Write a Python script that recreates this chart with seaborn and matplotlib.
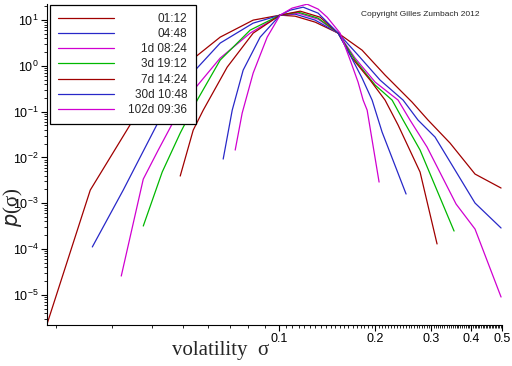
import numpy as np
import pandas as pd
import matplotlib
matplotlib.use("Agg")
import matplotlib.pyplot as plt
import matplotlib.ticker as mticker
import seaborn as sns

# legend labels (time horizons) and line colours
labels = ["01:12", "04:48", "1d 08:24", "3d 19:12", "7d 14:24", "30d 10:48", "102d 09:36"]
colors = ["#a00000", "#2828c8", "#d000d0", "#00b800", "#a00000", "#2828c8", "#d000d0"]

# volatility sigma and density p(sigma)
sig_0112 = [0.01875, 0.02556, 0.03589, 0.04551, 0.05454, 0.06531, 0.08288, 0.1007, 0.1122, 0.1297,
            0.1531, 0.1820, 0.2149, 0.2611, 0.2931, 0.3436, 0.4115, 0.4966]
p_0112 = [2.42e-6, 1.94e-3, 0.0932, 0.542, 1.556, 4.25, 10.0, 12.85, 12.2, 9.04,
          5.20, 2.21, 0.63, 0.162, 0.0656, 0.0206, 4.34e-3, 2.15e-3]

sig_0448 = [0.02594, 0.03243, 0.04176, 0.04551, 0.05454, 0.06531, 0.08288, 0.1007, 0.1122, 0.1297,
            0.1531, 0.1768, 0.2073, 0.2448, 0.2726, 0.3083, 0.4115, 0.4966]
p_0448 = [1.11e-4, 1.94e-3, 0.0593, 0.179, 0.809, 3.15, 8.60, 12.85, 13.5, 10.0,
          5.20, 1.72, 0.49, 0.179, 0.0656, 0.0279, 1.01e-3, 2.88e-4]

sig_1d = [0.03197, 0.03748, 0.04176, 0.04651, 0.05454, 0.06531, 0.08111, 0.1007, 0.1147, 0.1325,
          0.1531, 0.1730, 0.2000, 0.2361, 0.2573, 0.2910, 0.3589, 0.4115, 0.4966]
p_1d = [2.57e-5, 3.37e-3, 0.01452, 0.0593, 0.327, 1.48, 5.20, 12.85, 14.2, 10.5,
        5.20, 1.48, 0.443, 0.179, 0.0656, 0.01687, 9.6e-4, 2.73e-4, 8.95e-6]

sig_3d = [0.03748, 0.04297, 0.04894, 0.05534, 0.06531, 0.08111, 0.1007, 0.1147, 0.1325,
          0.1531, 0.1730, 0.2000, 0.2261, 0.2448, 0.2767, 0.3537]
p_3d = [3.18e-4, 4.80e-3, 0.0341, 0.179, 1.34, 6.05, 12.85, 14.95, 11.05,
        5.20, 1.34, 0.381, 0.179, 0.0656, 0.01452, 2.47e-4]

sig_7d = [0.04894, 0.05376, 0.05779, 0.06871, 0.08288, 0.1007, 0.1164, 0.1344,
          0.1531, 0.1694, 0.1929, 0.2149, 0.2361, 0.2767, 0.3128]
p_7d = [3.93e-3, 0.0396, 0.108, 0.941, 5.20, 12.85, 15.7, 11.6,
        5.20, 1.48, 0.49, 0.179, 0.0510, 4.80e-3, 1.29e-4]

sig_30d = [0.06675, 0.07125, 0.07711, 0.08717, 0.1007, 0.1083, 0.1189, 0.1325, 0.1445,
           0.1531, 0.1670, 0.1820, 0.1957, 0.2103, 0.2501]
p_30d = [9.23e-3, 0.108, 0.809, 4.25, 12.85, 16.5, 19.2, 14.2, 7.78,
         5.20, 1.72, 0.542, 0.179, 0.0359, 1.59e-3]

sig_102d = [0.07280, 0.07656, 0.08288, 0.09171, 0.1007, 0.1098, 0.1224, 0.1325, 0.1414,
            0.1553, 0.1670, 0.1768, 0.1834, 0.1888, 0.2058]
p_102d = [0.01452, 0.0932, 0.697, 4.25, 12.85, 18.3, 22.3, 17.4, 11.6,
          5.20, 1.34, 0.443, 0.179, 0.108, 2.90e-3]

series = [(sig_0112, p_0112), (sig_0448, p_0448), (sig_1d, p_1d), (sig_3d, p_3d),
          (sig_7d, p_7d), (sig_30d, p_30d), (sig_102d, p_102d)]

sns.set_style("ticks")
plt.rcParams['font.family'] = ['Liberation Sans', 'DejaVu Sans']

fig = plt.figure(figsize=(5.12, 3.66), dpi=100)
ax = fig.add_axes([47/512, 1 - 325/366, 455/512, 321/366])

for (s, p), lab, col in zip(series, labels, colors):
    sns.lineplot(x=s, y=p, ax=ax, color=col, label=lab, sort=False,
                 estimator=None, linewidth=0.9)

ax.set_xscale('log')
ax.set_yscale('log')
ax.set_xlim(0.0187, 0.5)
ax.set_ylim(2.19e-6, 22.5)

# x ticks
ax.xaxis.set_major_locator(mticker.FixedLocator([0.1, 0.2, 0.3, 0.4, 0.5]))
ax.xaxis.set_major_formatter(mticker.FixedFormatter(["0.1", "0.2", "0.3", "0.4", "0.5"]))
minor_x = [i / 100 for i in range(2, 10)] + [i / 200 for i in range(21, 100) if i % 20]
ax.xaxis.set_minor_locator(mticker.FixedLocator(minor_x))
ax.xaxis.set_minor_formatter(mticker.NullFormatter())

# y ticks
ax.yaxis.set_major_locator(mticker.LogLocator(base=10, numticks=20))
ax.yaxis.set_minor_locator(mticker.LogLocator(base=10, subs=np.arange(2, 10), numticks=20))
ax.yaxis.set_minor_formatter(mticker.NullFormatter())

ax.tick_params(axis='both', which='major', labelsize=9, length=4, width=0.8, pad=2, colors='black')
ax.tick_params(axis='both', which='minor', length=2, width=0.6, colors='black')
for sp in ['top', 'right']:
    ax.spines[sp].set_visible(False)
for sp in ['left', 'bottom']:
    ax.spines[sp].set_linewidth(0.8)
    ax.spines[sp].set_color('black')
ax.xaxis.label.set_visible(False)
ax.yaxis.label.set_visible(False)

fig.text(221/512, 1 - 351/366, "volatility  \u03c3", family=['Liberation Serif', 'DejaVu Serif'],
         fontsize=15, ha='center', va='center')
fig.text(13/512, 1 - 207/366, "$p$(\u03c3)", family=['Liberation Serif', 'DejaVu Serif'],
         fontsize=15, ha='center', va='center', rotation=90)

ax.text(0.82, 0.966, "Copyright Gilles Zumbach 2012", transform=ax.transAxes,
        fontsize=6, ha='center', va='center')

leg = ax.legend(loc='upper left', bbox_to_anchor=(0.006, 0.998), borderaxespad=0,
                fontsize=8.5, handlelength=4.75, labelspacing=0.27, fancybox=False,
                framealpha=1, edgecolor='black', handletextpad=1.2, borderpad=0.7)
leg.get_frame().set_linewidth(0.9)

# right-align the legend labels
fig.canvas.draw()
renderer = fig.canvas.get_renderer()
widths = [t.get_window_extent(renderer).width for t in leg.get_texts()]
for t, w in zip(leg.get_texts(), widths):
    t.set_position((max(widths) - w, 0))

fig.savefig("out.png", dpi=100)
